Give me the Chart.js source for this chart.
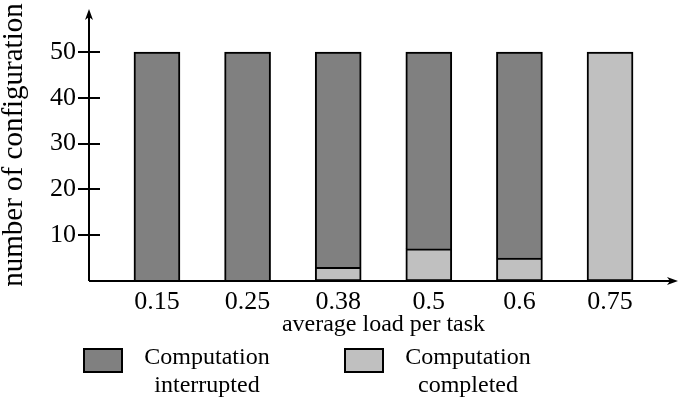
<!DOCTYPE html>
<html>
<head>
<meta charset="utf-8">
<script src="https://cdn.jsdelivr.net/npm/chart.js@4.4.0/dist/chart.umd.min.js"></script>
<style>
  html, body { margin: 0; padding: 0; background: #fff; }
  #wrap { width: 694px; height: 401px; }
</style>
</head>
<body>
<div id="wrap"><canvas id="loadChart"></canvas></div>
<script>
// ---- data ----
const loads = ["0.15", "0.25", "0.38", "0.5", "0.6", "0.75"];
const completed = [0, 0, 3, 7, 5, 50];
const interrupted = [50, 50, 47, 43, 45, 0];
const yTicks = [10, 20, 30, 40, 50];
const legendLines = {
    interrupted: ["Computation", "interrupted"],
    completed: ["Computation", "completed"]
};

const FONT = "'Liberation Serif', 'Times New Roman', serif";

const toPoints = arr => arr.map((v, i) => ({ x: i, y: v }));

/* ------------------------------
   AXES, TICK MARKS, LEGEND
------------------------------ */
const axesPlugin = {
    id: "axesPlugin",
    afterDraw(chart) {
        const { ctx, chartArea } = chart;
        const yScale = chart.scales.y;
        const l = chartArea.left, b = chartArea.bottom;

        ctx.save();
        ctx.strokeStyle = "#000";
        ctx.fillStyle = "#000";
        ctx.lineWidth = 2;

        ctx.beginPath();
        ctx.moveTo(l, b);
        ctx.lineTo(chartArea.right - 4, b);
        ctx.moveTo(l, b);
        ctx.lineTo(l, chartArea.top + 4);
        ctx.stroke();

        // arrow heads
        ctx.beginPath();
        ctx.moveTo(chartArea.right, b);
        ctx.lineTo(chartArea.right - 11, b - 4);
        ctx.lineTo(chartArea.right - 8, b);
        ctx.lineTo(chartArea.right - 11, b + 4);
        ctx.closePath();
        ctx.fill();
        ctx.beginPath();
        ctx.moveTo(l, chartArea.top);
        ctx.lineTo(l - 4, chartArea.top + 11);
        ctx.lineTo(l, chartArea.top + 8);
        ctx.lineTo(l + 4, chartArea.top + 11);
        ctx.closePath();
        ctx.fill();

        // tick marks crossing the y axis
        ctx.beginPath();
        yTicks.forEach(t => {
            const py = Math.round(yScale.getPixelForValue(t));
            ctx.moveTo(l - 11, py);
            ctx.lineTo(l + 11, py);
        });
        ctx.stroke();

        // legend
        const items = [
            { ds: chart.data.datasets[1], lines: legendLines.interrupted, x: 84, cx: 207 },
            { ds: chart.data.datasets[0], lines: legendLines.completed, x: 345, cx: 468 }
        ];
        ctx.font = "24px " + FONT;
        ctx.textAlign = "center";
        ctx.textBaseline = "alphabetic";
        items.forEach(it => {
            ctx.fillStyle = it.ds.backgroundColor;
            ctx.fillRect(it.x, 349, 38, 23);
            ctx.strokeRect(it.x, 349, 38, 23);
            ctx.fillStyle = "#000";
            ctx.fillText(it.lines[0], it.cx, 364);
            ctx.fillText(it.lines[1], it.cx, 392);
        });
        ctx.restore();
    }
};

/* ------------------------------
   CHART
------------------------------ */
new Chart(document.getElementById("loadChart"), {
    type: "bar",
    data: {
        datasets: [{
            label: "Computation completed",
            data: toPoints(completed),
            backgroundColor: "#c0c0c0",
            borderColor: "#000",
            borderWidth: 2,
            borderSkipped: false,
            barThickness: 46
        }, {
            label: "Computation interrupted",
            data: toPoints(interrupted),
            backgroundColor: "#808080",
            borderColor: "#000",
            borderWidth: { top: 2, left: 2, right: 2, bottom: 0 },
            borderSkipped: false,
            barThickness: 46
        }]
    },
    options: {
        responsive: true,
        maintainAspectRatio: false,
        animation: false,
        layout: { padding: { top: 9, right: 16, left: 0, bottom: 64 } },
        plugins: {
            legend: { display: false },
            tooltip: { enabled: false }
        },
        scales: {
            x: {
                type: "linear",
                stacked: true,
                offset: false,
                min: -0.75,
                max: 5.75,
                grid: { display: false, drawTicks: false },
                border: { display: false },
                afterBuildTicks: scale => {
                    scale.ticks = loads.map((_, i) => ({ value: i }));
                },
                afterFit: scale => {
                    scale.height = 56;
                    scale.paddingLeft = 0;
                    scale.paddingRight = 0;
                },
                ticks: {
                    color: "#000",
                    padding: 8,
                    maxRotation: 0,
                    font: { family: FONT, size: 26, lineHeight: 1 },
                    callback: v => loads[v]
                },
                title: {
                    display: true,
                    text: "average load per task",
                    color: "#000",
                    padding: 0,
                    font: { family: FONT, size: 24, lineHeight: 1 }
                }
            },
            y: {
                stacked: true,
                min: 0,
                max: 59.4,
                grid: { display: false, drawTicks: false },
                border: { display: false },
                afterBuildTicks: scale => {
                    scale.ticks = yTicks.map(v => ({ value: v }));
                },
                afterFit: scale => {
                    scale.width = 89;
                    scale.paddingTop = 0;
                    scale.paddingBottom = 0;
                },
                ticks: {
                    color: "#000",
                    padding: 13,
                    font: { family: FONT, size: 26 }
                },
                title: {
                    display: true,
                    text: "number of configuration",
                    color: "#000",
                    padding: 0,
                    font: { family: FONT, size: 29, lineHeight: 1 }
                }
            }
        }
    },
    plugins: [axesPlugin]
});
</script>
</body>
</html>
